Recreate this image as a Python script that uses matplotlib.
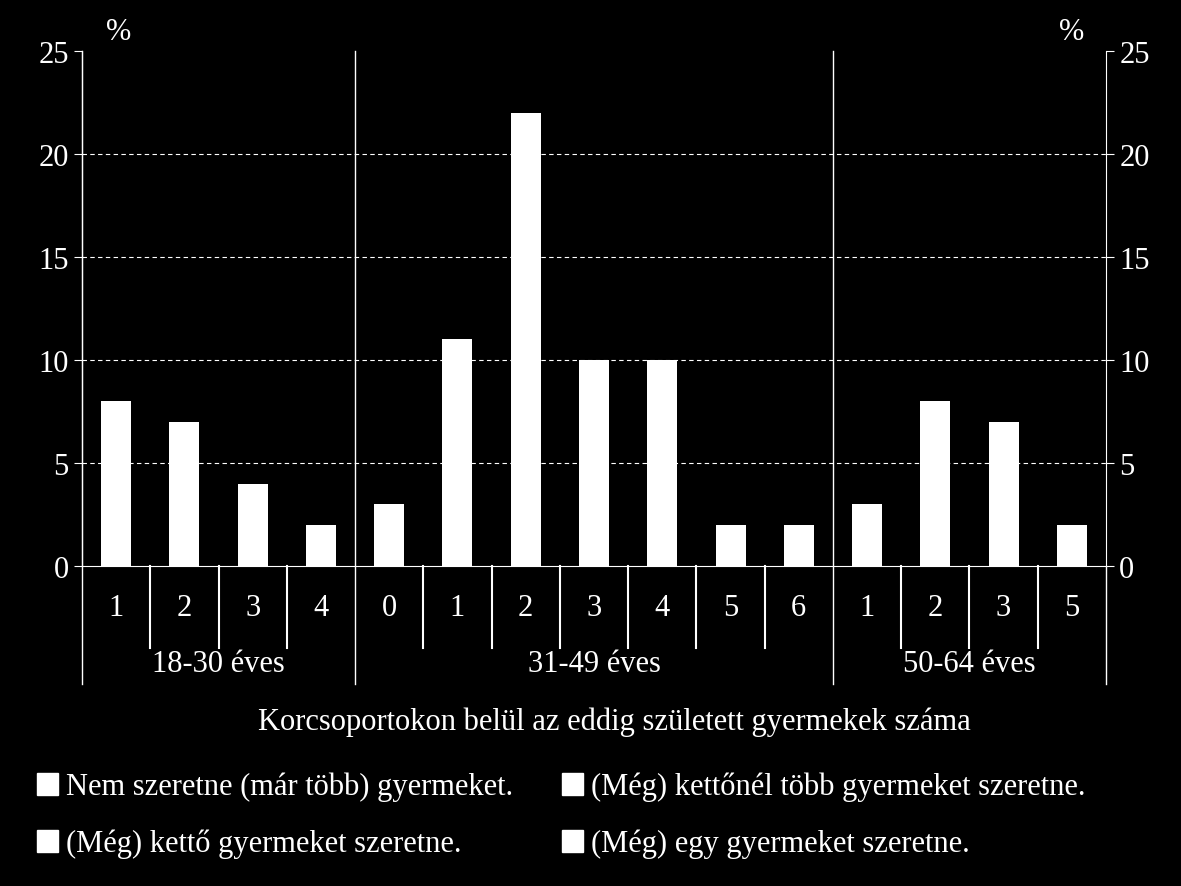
import matplotlib
matplotlib.use("Agg")
import matplotlib.pyplot as plt
from matplotlib.patches import Patch
import matplotlib.transforms as mtrans

# ── Data ──────────────────────────────────────────────────────────────────────
groups = ["18-30 éves", "31-49 éves", "50-64 éves"]
children = [["1", "2", "3", "4"],
            ["0", "1", "2", "3", "4", "5", "6"],
            ["1", "2", "3", "5"]]
values = [8, 7, 4, 2, 3, 11, 22, 10, 10, 2, 2, 3, 8, 7, 2]
series = ["Nem szeretne (már több) gyermeket.",
          "(Még) kettőnél több gyermeket szeretne.",
          "(Még) kettő gyermeket szeretne.",
          "(Még) egy gyermeket szeretne."]
yticks = [0, 5, 10, 15, 20, 25]

plt.rcParams["font.family"] = ["Liberation Serif", "DejaVu Serif"]
W = "white"
FS = 22

fig = plt.figure(figsize=(11.81, 8.87), dpi=100, facecolor="black")
ax = fig.add_axes([0.0694, 0.3608, 0.8671, 0.5806], facecolor="black")

n = len(values)
xs = list(range(n))
ax.bar(xs, values, width=0.44, color=W, zorder=3)
ax.set_xlim(-0.5, n - 0.5)
ax.set_ylim(0, 25)
ax.set_yticks(yticks)
ax.tick_params(axis="y", colors=W, labelsize=FS, direction="out", length=6,
               left=True, right=True, labelright=True)
ax.set_xticks([])
for y in yticks[1:-1]:
    ax.axhline(y, color=W, lw=0.8, ls=(0, (4, 3)), zorder=1)
for s in ["left", "right", "bottom"]:
    ax.spines[s].set_color(W)
ax.spines["top"].set_visible(False)

ax.text(0.036, 1.01, "%", transform=ax.transAxes, color=W, fontsize=FS,
        ha="center", va="bottom")
ax.text(0.966, 1.01, "%", transform=ax.transAxes, color=W, fontsize=FS,
        ha="center", va="bottom")

# category table below axis
tr = mtrans.blended_transform_factory(ax.transData, ax.transAxes)
pos = 0
for g, kids in zip(groups, children):
    for k, lab in enumerate(kids):
        ax.text(pos + k, -0.08, lab, transform=tr, color=W, fontsize=FS,
                ha="center", va="center")
        if k > 0:
            ax.plot([pos + k - 0.5] * 2, [0, -0.16], transform=tr, color=W,
                    lw=1.5, clip_on=False)
    mid = pos + (len(kids) - 1) / 2
    ax.text(mid, -0.19, g, transform=tr, color=W, fontsize=FS,
            ha="center", va="center")
    ax.plot([pos - 0.5] * 2, [1, -0.23], transform=tr, color=W, lw=1,
            clip_on=False, zorder=2)
    pos += len(kids)
ax.plot([pos - 0.5] * 2, [0, -0.23], transform=tr, color=W, lw=1, clip_on=False)

fig.text(0.52, 0.186, "Korcsoportokon belül az eddig született gyermekek száma",
         color=W, fontsize=FS, ha="center", va="center")

# legend filled column-wise -> reorder so rows read like the reference
order = [0, 2, 1, 3]
handles = [Patch(facecolor=W, edgecolor=W) for _ in series]
fig.legend([handles[i] for i in order], [series[i] for i in order],
           loc="lower left", bbox_to_anchor=(0.008, 0.0), ncol=2, frameon=False,
           fontsize=FS, labelcolor=W, handlelength=0.7, handleheight=0.7,
           handletextpad=0.25, columnspacing=1.6, labelspacing=0.9)

fig.savefig("out.png", dpi=100, facecolor="black")
